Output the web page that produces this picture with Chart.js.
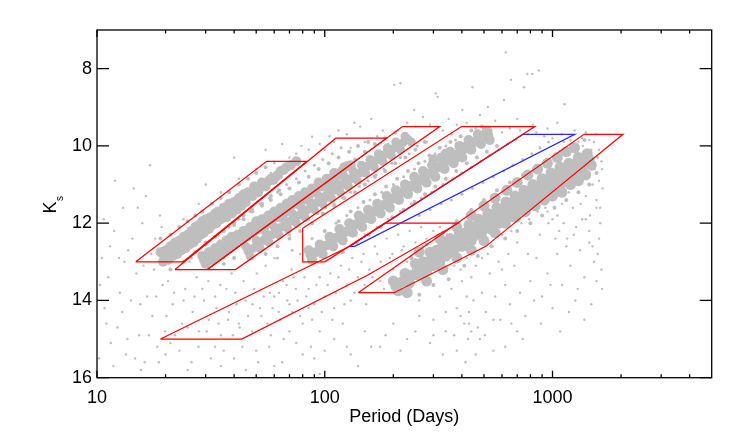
<!DOCTYPE html>
<html>
<head>
<meta charset="utf-8">
<script src="https://cdn.jsdelivr.net/npm/chart.js@4.4.1/dist/chart.umd.min.js"></script>
<style>
  html, body { margin: 0; padding: 0; background: #fff; }
  canvas { display: block; }
</style>
</head>
<body>
<canvas id="plc" width="742" height="441"></canvas>
<script>
// axis ticks
const xTicks = [10, 100, 1000];
const xMinorTicks = [20, 30, 40, 50, 60, 70, 80, 90, 200, 300, 400, 500, 600, 700, 800, 900, 2000, 3000, 4000];
const yTicks = [8, 10, 12, 14, 16];

// dense sequences, [period (days), Ks]
const seqAprime = [[19,12.75],[19.5,13.0],[20,12.7],[20.5,12.95],[21,12.6],[21.5,12.85],[22,12.5],[22.5,12.8],[23,12.45],[23.5,12.7],
  [24,12.35],[24.5,12.65],[25,12.3],[25.5,12.55],[26,12.2],[26.5,12.5],[27,12.1],[27.5,12.4],[28,12.05],[28.5,12.3],[29,11.95],
  [29.5,12.25],[30,11.9],[31,12.15],[31.5,11.85],[32,12.05],[33,11.75],[33.5,12.0],[34,11.7],[35,11.9],[36,11.6],[37,11.85],
  [38,11.5],[39,11.75],[40,11.45],[41,11.65],[42,11.35],[43,11.55],[44,11.25],[45,11.45],[46,11.2],[48,11.3],[49,11.05],
  [51,11.2],[53,10.95],[55,11.05],[58,10.85],[61,10.8],[64,10.65],[68,10.55],
  [19.7,12.85],[20.8,12.78],[21.8,12.7],[22.8,12.62],[23.8,12.52],[24.8,12.45],[25.8,12.38],[26.8,12.3],[27.8,12.22],[28.8,12.14],
  [29.8,12.08],[30.8,12.0],[32.5,11.92],[34.5,11.8],[36.5,11.72],[38.5,11.62],[40.5,11.55],[42.5,11.45],[44.5,11.35],[47,11.25],
  [50,11.12],[52,11.08],[54,11.0],[56.5,10.92],[59.5,10.88],[62.5,10.75],[66,10.62],[71,10.5],[75,10.4]];
const seqA = [[29,12.85],[30,13.05],[31,12.75],[32,12.95],[33,12.65],[34,12.85],[35,12.55],[36,12.75],[37,12.45],[38,12.65],
  [39,12.35],[40,12.55],[41.5,12.3],[43,12.45],[44,12.2],[45.5,12.35],[47,12.1],[48.5,12.25],[50,11.95],[51.5,12.15],[53,11.9],
  [55,12.05],[56.5,11.8],[58,11.95],[60,11.7],[62,11.85],[64,11.6],[66,11.75],[68,11.5],[70,11.65],[72,11.4],[75,11.5],[77,11.3],
  [80,11.4],[82,11.2],[85,11.3],[88,11.1],[91,11.2],[94,10.95],[98,11.05],[102,10.85],[106,10.95],[110,10.7],[116,10.75],
  [122,10.55],[130,10.5],
  [29.5,12.95],[30.5,12.9],[31.5,12.85],[32.5,12.8],[33.5,12.75],[34.5,12.7],[35.5,12.65],[36.5,12.6],[37.5,12.55],[38.5,12.5],
  [39.5,12.45],[40.8,12.42],[42.2,12.37],[43.5,12.32],[45,12.27],[46.3,12.22],[47.8,12.17],[49.3,12.1],[50.8,12.05],[52.3,12.0],
  [54,11.97],[55.8,11.92],[57.3,11.87],[59,11.82],[61,11.77],[63,11.72],[65,11.67],[67,11.62],[69,11.57],[71,11.52],[73.5,11.45],
  [76,11.4],[78.5,11.35],[81,11.3],[83.5,11.25],[86.5,11.2],[89.5,11.15],[92.5,11.08],[96,11.0],[100,10.95],[104,10.9],
  [108,10.82],[113,10.72],[119,10.65],[126,10.52]];
const seqB = [[45,12.6],[47,12.85],[50,12.45],[52,12.65],[55,12.25],[57,12.5],[60,12.1],[63,12.3],[66,11.9],[69,12.15],[72,11.75],
  [75,12.0],[79,11.6],[82,11.85],[86,11.45],[90,11.65],[94,11.3],[98,11.5],[103,11.1],[107,11.35],[112,10.95],[117,11.2],
  [122,10.8],[127,11.05],[133,10.65],[139,10.9],[145,10.5],[151,10.7],[158,10.35],[165,10.55],[172,10.2],[180,10.4],[188,10.05],
  [196,10.25],[205,9.9],[215,10.1],[225,9.75],[240,9.9],
  [46,12.72],[48.5,12.65],[51,12.55],[53.5,12.45],[56,12.37],[58.5,12.3],[61.5,12.2],[64.5,12.1],[67.5,12.02],[70.5,11.95],
  [73.5,11.87],[77,11.8],[80.5,11.72],[84,11.65],[88,11.55],[92,11.47],[96,11.4],[100.5,11.3],[105,11.22],[109.5,11.15],
  [114.5,11.07],[119.5,11.0],[124.5,10.92],[130,10.85],[136,10.77],[142,10.7],[148,10.6],[154.5,10.52],[161.5,10.45],
  [168.5,10.37],[176,10.3],[184,10.22],[192,10.15],[200.5,10.07],[210,10.0],[220,9.92],[232,9.83]];
const seqCprime = [[85,12.7],[88,12.95],[95,12.55],[98,12.8],[105,12.35],[109,12.6],[116,12.15],[120,12.45],[128,12.0],[133,12.25],
  [141,11.8],[146,12.1],[155,11.65],[160,11.9],[170,11.5],[176,11.75],[187,11.3],[193,11.6],[205,11.15],[212,11.4],[225,11.0],
  [232,11.25],[247,10.8],[255,11.1],[270,10.65],[280,10.95],[296,10.5],[306,10.8],[325,10.3],[336,10.6],[356,10.15],[368,10.45],
  [390,10.0],[402,10.3],[428,9.85],[440,10.1],[470,9.7],[485,9.95],[515,9.6],[530,9.85],[300,10.35],[340,10.2],[380,10.3],
  [420,10.0],[260,10.9],[240,11.05],
  [86.5,12.82],[91,12.75],[96.5,12.67],[101.5,12.58],[107,12.48],[112.5,12.38],[118,12.3],[124,12.22],[130.5,12.12],[137,12.03],
  [143.5,11.95],[150,11.87],[157.5,11.78],[165,11.7],[173,11.62],[181.5,11.53],[190,11.45],[199,11.37],[208.5,11.28],
  [218.5,11.2],[228.5,11.12],[239.5,11.03],[251,10.95],[262.5,10.87],[275,10.8],[288,10.72],[301,10.65],[315.5,10.55],
  [330.5,10.45],[346,10.38],[362,10.3],[379,10.22],[396,10.15],[415,10.07],[434,9.98],[455,9.9],[477,9.82],[500,9.75],[522,9.72]];
const seqMira = [[200,13.5],[210,13.75],[225,13.3],[235,13.55],[250,13.05],[260,13.35],[270,13.0],[280,13.25],[290,12.75],[300,13.1],
  [310,12.7],[320,13.0],[330,12.55],[340,12.85],[355,12.4],[365,12.75],[375,12.6],[390,12.25],[400,12.6],[415,12.4],[430,12.05],
  [440,12.45],[455,12.25],[475,11.9],[485,12.3],[500,12.1],[520,11.75],[535,12.15],[550,11.95],[570,11.6],[585,12.0],[600,11.8],
  [625,11.45],[640,11.85],[660,11.6],[685,11.3],[700,11.7],[720,11.45],[750,11.15],[770,11.55],[790,11.3],[820,11.0],[845,11.4],
  [870,11.15],[900,10.85],[925,11.25],[950,11.0],[985,10.7],[1010,11.1],[1040,10.85],[1080,10.55],[1110,10.95],[1140,10.7],
  [1180,10.45],[1220,10.8],[1260,10.55],[1300,10.3],[1350,10.65],[1420,10.2],[1480,10.5],
  [230,13.8],[280,13.5],[330,13.2],[380,12.9],[440,12.7],[500,12.45],[560,12.25],[620,12.0],[690,11.85],[760,11.7],[840,11.55],
  [920,11.4],[1000,11.3],[1100,11.2],[1200,11.0],[1300,10.9],[1400,10.75],
  [260,12.75],[320,12.4],[380,12.1],[440,11.8],[500,11.55],[560,11.35],[630,11.15],[700,10.95],[780,10.75],[860,10.6],[950,10.45],
  [1050,10.3],[1150,10.15],[1250,10.05],
  [205,13.62],[218,13.52],[230,13.43],[242,13.35],[255,13.2],[265,13.18],[275,13.12],[285,13.0],[295,12.92],[305,12.9],
  [315,12.85],[325,12.77],[335,12.7],[348,12.62],[360,12.57],[370,12.68],[382,12.43],[395,12.42],[408,12.5],[422,12.22],
  [435,12.25],[448,12.35],[465,12.07],[480,12.1],[492,12.2],[510,11.92],[528,11.95],[542,12.05],[560,11.78],[578,11.8],
  [592,11.9],[612,11.62],[632,11.65],[650,11.72],[672,11.45],[692,11.5],[710,11.58],[735,11.3],[760,11.35],[780,11.42],
  [805,11.15],[832,11.2],[858,11.28],[885,11.0],[912,11.05],[938,11.12],[968,10.85],[998,10.9],[1025,10.97],[1060,10.7],
  [1095,10.75],[1125,10.82],[1160,10.58],[1200,10.62],[1240,10.68],[1280,10.42],[1325,10.48],[1385,10.42],[1450,10.35]];

// looser stars around each sequence, [period (days), Ks]
const seqFringe = [[19,12.4],[21,12.3],[23,12.1],[25,11.95],[27,11.8],[29,11.7],[32,11.5],[35,11.35],[38,11.2],[42,11.0],[46,10.85],
  [50,10.7],[55,10.55],[21,13.2],[24,13.0],[27,12.75],[30,12.55],[33,12.35],[36,12.2],[40,12.0],[44,11.8],[48,11.65],[53,11.5],
  [58,11.3],[63,11.15],
  [30,12.5],[33,12.35],[36,12.2],[40,12.05],[44,11.9],[48,11.7],[53,11.55],[58,11.4],[64,11.25],[70,11.1],[77,10.95],[85,10.8],
  [94,10.6],[104,10.45],[115,10.3],[128,10.15],[140,10.0],[155,9.9],[36,13.05],[40,12.9],[45,12.7],[50,12.5],[56,12.35],[62,12.2],
  [68,12.05],[75,11.9],[83,11.75],[92,11.55],[102,11.4],[112,11.2],[124,11.0],[137,10.85],
  [50,12.15],[56,11.95],[62,11.75],[70,11.55],[78,11.35],[88,11.15],[98,10.95],[110,10.75],[122,10.5],[136,10.35],[150,10.15],
  [166,9.95],[184,9.8],[204,9.65],[55,12.8],[62,12.6],[70,12.4],[78,12.2],[88,12.0],[98,11.75],[110,11.55],[122,11.35],[136,11.2],
  [150,11.0],[166,10.8],[184,10.65],[204,10.45],[226,10.3],[250,10.1],[275,9.9],
  [100,12.2],[115,11.95],[130,11.7],[148,11.45],[166,11.25],[186,11.05],[208,10.85],[232,10.65],[258,10.45],[288,10.25],[320,10.05],
  [356,9.9],[395,9.75],[440,9.6],[490,9.5],[120,12.75],[138,12.5],[156,12.3],[176,12.1],[198,11.85],[222,11.65],[248,11.45],
  [276,11.25],[306,11.05],[340,10.85],[378,10.65],[420,10.45],[466,10.3],[515,10.15],[570,10.0],
  [240,12.9],[280,12.55],[330,12.25],[380,11.95],[440,11.65],[500,11.4],[570,11.15],[650,10.95],[740,10.75],[840,10.55],[950,10.35],
  [1080,10.15],[1220,9.95],[1380,9.85],[260,13.85],[300,13.6],[350,13.45],[410,13.1],[470,12.85],[540,12.6],[620,12.4],[700,12.2],
  [800,12.0],[900,11.8],[1020,11.6],[1150,11.4],[1300,11.2],[1450,11.0],[1560,10.7]];

// scattered stars, [period (days), Ks]
const fieldLeft = [[10.5,12.9],[10.8,14.2],[11.2,13.4],[11.5,15.1],[11.9,12.2],[12.3,14.7],[12.6,13.8],[13.0,11.6],[13.4,15.4],
  [13.7,12.7],[14.1,14.0],[14.5,11.1],[14.9,13.3],[15.3,14.9],[15.8,12.0],[16.2,15.6],[16.6,13.9],[17.1,10.5],[17.5,14.4],
  [18.0,12.4],[18.4,15.2],[18.9,11.8],[19.4,13.6],[19.9,14.8],[12.0,10.9],[11.0,14.6],[13.2,13.0],[15.6,15.8],[17.8,13.2],[10.2,15.5],
  [10.3,13.6],[10.7,11.9],[11.4,12.6],[11.8,15.7],[12.5,12.9],[12.9,14.3],[13.6,15.0],[14.3,12.4],[14.7,15.5],[15.1,11.6],
  [15.5,14.1],[16.0,13.1],[16.4,11.3],[16.9,14.9],[17.3,12.8],[18.2,13.9],[18.7,15.6],[19.2,12.1]];
const fieldLower = [[20.5,13.5],[21.5,14.1],[22.8,13.2],[23.6,14.6],[24.4,13.7],[25.5,13.0],[26.3,14.3],[27.4,13.4],[28.6,12.9],
  [29.5,14.0],[30.8,13.5],[32.1,13.1],[33.5,14.2],[34.8,13.6],[36.2,12.9],[37.6,14.5],[39.0,13.3],[40.5,13.8],[42.3,14.7],
  [44.0,13.5],[46.1,12.9],[48.2,14.1],[50.3,13.3],[52.7,14.4],[55.0,13.1],[57.4,13.8],[60.1,12.9],[62.8,14.3],[65.5,13.5],
  [68.4,14.0],[71.5,13.2],[74.7,13.7],[78.0,12.8],[81.5,13.4],[85.1,14.2],
  [22,14.9],[25,14.7],[28,14.8],[31,14.5],[35,14.9],[38,14.3],[42,14.6],[45,14.0],[48,14.8],[52,14.2],[56,14.6],[60,13.9],
  [64,14.5],[68,13.6],[72,14.3],[76,14.0],[80,14.6],[85,13.7],[90,14.1],[95,13.4],[100,13.9],[106,13.3],[112,13.8],[118,13.1],
  [125,13.6],[132,12.9],[140,13.4],[148,12.8],[157,13.2],[166,12.6],[176,13.0],[187,12.4],[198,12.8],[210,12.3],[222,12.6],
  [236,12.2],[250,12.5],[265,12.1],[280,12.4],[300,12.2],[320,12.1],[345,12.3],[58,14.9],[70,14.8],[88,14.5],[110,14.2],
  [130,14.0],[150,13.6],[175,13.5],[200,13.2],[230,13.0],[95,14.8],[120,14.6],
  [20,15.4],[26,15.6],[33,15.2],[40,15.5],[50,15.3],[60,15.7],[75,15.1],[90,15.5],[110,15.0],[130,15.4],[150,14.8],[175,15.2],
  [200,14.6],[230,15.0],[260,14.4],[300,14.9],[340,14.3],[380,15.3],[430,14.6],[480,15.0],[550,14.5],[620,15.2],[700,14.8],
  [140,15.7],[95,15.9],
  [20.2,14.4],[21.0,15.1],[21.8,13.8],[23.0,15.3],[24.0,14.0],[25.0,15.8],[26.8,13.9],[27.9,15.2],[29.0,13.7],[30.3,14.8],
  [31.6,15.5],[33.0,13.9],[34.2,14.6],[36.0,15.3],[37.0,13.7],[39.5,14.9],[41.0,14.1],[43.5,15.2],[46.0,14.4],[49.0,13.7],
  [51.0,15.6],[54.0,13.9],[57.0,15.2],[59.0,14.2],[63.0,13.8],[66.0,15.0],[70.0,14.1],[73.0,13.4],[78.0,14.4],[83.0,13.9],
  [87.0,15.2],[92.0,13.6],[97.0,14.3],[103,13.6],[108,14.5],[115,13.4],[122,14.1],[128,13.2],[135,13.8],[145,13.0],[152,14.1],
  [162,13.4],[170,12.8],[182,13.7],[193,12.9],[205,13.5],[218,12.7],[228,13.6],[242,12.9],[255,13.3],[270,12.6],[285,12.9],
  [310,12.6],[330,12.5],[350,12.8],[370,13.1],[395,13.2],[420,12.9],[460,13.1],[490,12.9],[520,12.8],[545,12.6],
  [125,15.2],[100,15.3],[80,15.4],[65,15.6],[45,15.8],[35,15.7],[160,15.2],[185,14.9],[215,15.3],[250,14.8],[290,15.1],[330,15.4]];
const fieldRight = [[260,14.0],[280,13.6],[300,14.5],[320,13.9],[340,14.8],[360,13.7],[380,14.2],[400,13.5],[410,14.6],[420,13.9],
  [425,15.0],[430,14.3],[440,13.4],[450,14.0],[470,14.7],[490,13.8],[510,14.3],[530,13.3],[560,13.9],[590,14.5],[620,13.6],
  [650,14.1],[680,13.1],[720,13.8],[760,14.4],[800,13.5],[850,12.9],[900,13.9],[950,13.3],[1000,14.2],[1050,12.8],[1100,13.6],
  [1150,12.6],[1200,13.1],[1260,14.0],[1320,12.7],[1380,13.4],[1450,12.5],[1520,13.0],[1600,12.4],[1650,13.7],[700,12.5],
  [780,12.8],[880,12.3],[960,12.0],[1030,12.4],[1120,12.0],[1240,12.3],[1400,11.9],[1560,11.6],[1620,12.0],[640,12.8],[580,13.0],
  [1150,10.4],[1180,11.2],[1200,10.0],[1230,11.6],[1250,10.7],[1280,10.2],[1300,11.0],[1330,11.5],[1360,10.0],[1380,10.8],
  [1400,11.3],[1430,10.5],[1460,11.8],[1480,10.1],[1500,11.0],[1530,10.6],[1560,11.4],[1580,10.3],[1600,10.9],[1620,11.6],
  [1640,10.4],[1660,11.1],[1100,11.5],[1050,11.8],[1000,11.4],[950,11.7],[1120,9.9],[1350,9.8],[1520,9.9],[1450,12.2],
  [600,12.3],[660,12.2],[730,12.0],[790,11.9],[860,11.7],[930,11.6],[1000,11.9],[1070,12.2],[1160,12.4],[1270,12.1],[1350,11.9],
  [1500,12.6],[1580,12.8],[1640,13.2],[1560,13.5],[1480,14.1],[1380,14.5],[1290,13.7],[1180,14.3],[1080,14.8],[980,13.6],
  [890,14.6],[830,14.0],[740,15.0],[660,14.6],[600,13.2],[550,15.3],[505,14.9],[460,15.4],[440,14.8],[415,15.6],[395,14.4],[370,14.9]];
const fieldUpper = [[202,8.42],[215,8.38],[313,8.73],[445,8.48],[623,7.58],[657,8.29],[750,8.48],[775,8.14],[815,8.14],[870,8.05],
  [613,8.81],[520,8.99],[1130,8.92],[247,9.07],[307,8.64],[402,9.07],[143,9.5],[88,9.76],[79,10.0],[160,9.3],[180,9.6],[230,9.4],
  [270,9.25],[350,9.3],[380,9.45],[480,9.2],[560,9.35],[700,9.3],[820,9.45],[950,9.55],[1050,9.4],[1250,9.6],[1400,9.65],
  [1550,9.7],[125,9.7],[110,9.9],[100,10.1],[130,10.05],[70,10.3],[60,10.45],[50,10.6],[42,10.85],[35,11.2],[28,11.5],[24,11.9],
  [30,11.0],[40,10.3],[55,10.1],[65,9.95],
  [150,9.9],[170,9.75],[190,9.95],[210,9.6],[250,9.5],[290,9.45],[330,9.6],[360,9.7],[420,9.4],[460,9.55],[500,9.5],[540,9.6],
  [600,9.65],[650,9.55],[720,9.6],[780,9.7],[850,9.65],[920,9.75],[1000,9.8],[1100,9.7],[1200,9.85],[1300,9.9],[1450,9.85],
  [1600,10.1],[1650,10.6],[45,11.3],[50,11.0],[58,10.7],[66,10.55],[75,10.2],[85,10.1],[95,9.95],[105,9.75],[115,9.6],[135,9.4]];
const fieldBetween = [[26,12.9],[30,12.55],[34,12.3],[38,12.1],[42,11.9],[47,11.7],[52,11.5],[57,11.35],[62,11.2],[68,11.0],
  [75,10.85],[82,10.65],[90,10.5],[98,10.35],[108,10.2],[118,10.05],[40,12.9],[45,12.7],[52,12.5],[58,12.45],[64,12.2],[70,12.3],
  [77,12.0],[85,11.9],[93,11.75],[101,11.6],[110,11.5],[120,11.35],[130,11.2],[142,11.05],[155,10.9],[168,10.75],[182,10.6],
  [197,10.45],[215,10.3],[235,10.2],[255,10.0],[280,9.9],[62,12.9],[72,12.7],[88,12.4],[100,12.2],[112,12.0],[125,11.8],
  [140,11.6],[158,11.4],[178,11.2],[200,11.0],[222,10.8],[248,10.6],[275,10.4],[305,10.2],[340,10.0],[375,9.85],[150,12.3],
  [170,12.1],[190,11.9],[215,11.7],[240,11.5],[265,11.35],[295,11.2],[330,11.0],[365,10.85],[400,10.7],[440,10.55],[485,10.4],
  [530,10.25],[580,10.1],[635,9.95],[690,9.85],[260,11.8],[290,11.65],[325,11.5],[360,11.4],[400,11.25],[445,11.1],[495,10.95],
  [550,10.8],[610,10.65],[670,10.5],[740,10.35],[810,10.2],[880,10.05],[960,9.9]];

// selection boxes, [period (days), Ks]
const boxAprime = [[14.8,13.0],[23.9,13.0],[83.2,10.4],[55.6,10.4]];
const boxA = [[22.0,13.2],[30.5,13.2],[186.8,9.8],[111.9,9.8]];
const boxB = [[30.5,13.2],[40.6,13.2],[320,9.5],[219.6,9.5]];
const boxCprime = [[80,12.13],[80,13.0],[100.2,13.0],[836,9.5],[398.7,9.5]];
const boxBlue = [[128.9,12.6],[135.6,12.6],[1253,9.7],[743,9.7]];
const boxMira = [[140.3,13.8],[201.7,13.8],[509.7,12.6],[2040,9.7],[1376,9.7]];
const boxE = [[19.0,15.0],[43.2,15.0],[154.7,13.34],[385.2,12.0],[183.7,12.0],[128.9,12.6]];

const grey = 'rgb(190,190,190)';
const red = 'rgb(255,0,0)';
const blue = 'rgb(40,40,255)';
const font = 'Liberation Sans, Arial, Helvetica, sans-serif';

const toXY = arr => arr.map(([p, k]) => ({ x: p, y: k }));

function stars(arr, r) {
  return { data: toXY(arr), pointRadius: r, pointHoverRadius: r, backgroundColor: grey, borderWidth: 0, order: 2 };
}
function box(arr, color) {
  return {
    data: toXY(arr.concat([arr[0]])), showLine: true, borderColor: color, borderWidth: 1.2,
    pointRadius: 0, pointHoverRadius: 0, fill: false, tension: 0, order: 1
  };
}

// box, inward ticks and the Ks axis title
const framePlugin = {
  id: 'frame',
  afterDraw(chart) {
    const { ctx, chartArea: a, scales: { x, y } } = chart;
    ctx.save();
    ctx.strokeStyle = '#000';
    ctx.lineWidth = 1.3;
    ctx.strokeRect(a.left, a.top, a.right - a.left, a.bottom - a.top);
    ctx.beginPath();
    const seg = (x1, y1, x2, y2) => { ctx.moveTo(x1, y1); ctx.lineTo(x2, y2); };
    xTicks.forEach(v => {
      const px = x.getPixelForValue(v);
      seg(px, a.bottom, px, a.bottom - 7);
      seg(px, a.top, px, a.top + 7);
    });
    xMinorTicks.forEach(v => {
      const px = x.getPixelForValue(v);
      seg(px, a.bottom, px, a.bottom - 3.5);
      seg(px, a.top, px, a.top + 3.5);
    });
    yTicks.forEach(v => {
      const py = y.getPixelForValue(v);
      seg(a.left, py, a.left + 12, py);
      seg(a.right, py, a.right - 12, py);
    });
    ctx.stroke();

    ctx.fillStyle = '#000';
    ctx.translate(56, 213.5);
    ctx.rotate(-Math.PI / 2);
    ctx.textBaseline = 'alphabetic';
    ctx.font = '18px ' + font;
    ctx.fillText('K', 0, 0);
    const kw = ctx.measureText('K').width;
    ctx.font = '10px ' + font;
    ctx.fillText('s', kw + 0.5, 6.5);
    ctx.restore();
  }
};

new Chart(document.getElementById('plc'), {
  type: 'scatter',
  data: {
    datasets: [
      box(boxAprime, red), box(boxA, red), box(boxB, red), box(boxCprime, red),
      box(boxMira, red), box(boxE, red), box(boxBlue, blue),
      stars(seqAprime, 5), stars(seqA, 5), stars(seqB, 4.5), stars(seqCprime, 5), stars(seqMira, 5.5),
      stars(seqFringe, 2),
      stars(fieldLeft, 1.2), stars(fieldLower, 1.2), stars(fieldRight, 1.2), stars(fieldUpper, 1.2), stars(fieldBetween, 1.5)
    ]
  },
  options: {
    responsive: false,
    animation: false,
    devicePixelRatio: 1,
    layout: { padding: { left: 0, right: 30.3, top: 30, bottom: 0 } },
    plugins: { legend: { display: false }, tooltip: { enabled: false } },
    scales: {
      x: {
        type: 'logarithmic',
        min: 10,
        max: 5000,
        grid: { display: false, drawTicks: false },
        border: { display: false },
        afterBuildTicks: s => { s.ticks = xTicks.map(v => ({ value: v })); },
        afterFit: s => { s.height = 63.3; },
        ticks: {
          color: '#000', padding: 10, maxRotation: 0, autoSkip: false,
          font: { family: font, size: 18 },
          callback: v => String(v)
        },
        title: {
          display: true, text: 'Period (Days)', color: '#000',
          font: { family: font, size: 18 }, padding: { top: 0, bottom: 13.5 }
        }
      },
      y: {
        type: 'linear',
        reverse: true,
        min: 7,
        max: 16,
        grid: { display: false, drawTicks: false },
        border: { display: false },
        afterBuildTicks: s => { s.ticks = yTicks.map(v => ({ value: v })); },
        afterFit: s => { s.width = 97; },
        ticks: {
          color: '#000', padding: 5, autoSkip: false,
          font: { family: font, size: 18 },
          callback: v => String(v)
        }
      }
    }
  },
  plugins: [framePlugin]
});
</script>
</body>
</html>
